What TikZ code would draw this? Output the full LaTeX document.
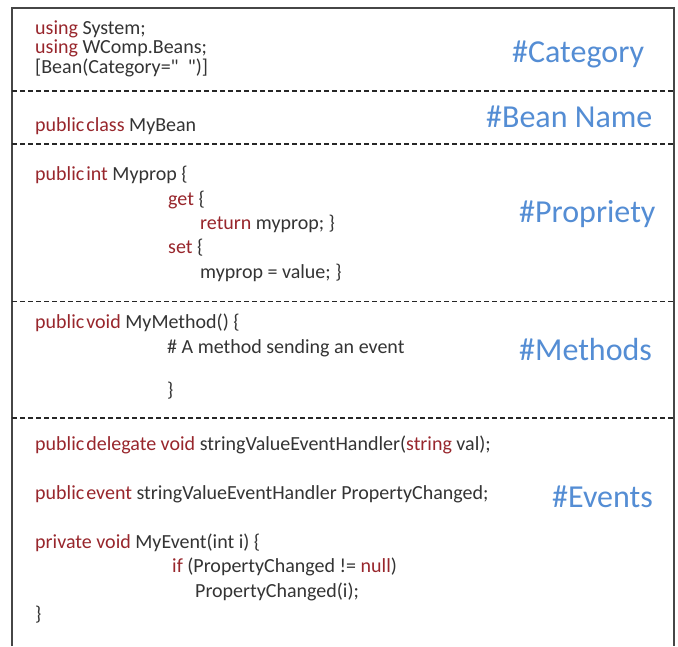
\documentclass[tikz,border=0pt]{standalone}
\usepackage{fontspec}
\setmainfont{Carlito}[Ligatures=TeXOff]
\definecolor{codegray}{RGB}{52,52,52}
\definecolor{kwred}{RGB}{152,38,44}
\definecolor{tagblue}{RGB}{84,141,212}
\definecolor{framegray}{RGB}{70,70,70}
\newcommand\kw[1]{\textcolor{kwred}{#1}}
\newcommand\ns{\hspace{0.1em}}
\begin{document}
\begin{tikzpicture}[x=1pt,y=-1pt,
  code/.style={anchor=base west, inner sep=0pt, text=codegray,
    font=\fontsize{20}{20}\selectfont},
  tag/.style={anchor=base west, inner sep=0pt, text=tagblue,
    font=\fontsize{32}{32}\selectfont},
  sepline/.style={draw=black!85, dash pattern=on 5pt off 3pt, line width=1.1pt},
  frame/.style={draw=framegray, line width=1.6pt}]

\useasboundingbox (0,0) rectangle (678,646);
\fill[white] (0,0) rectangle (678,646);

% outer frame, open at the bottom
\coordinate (bl) at (12,646);
\coordinate (tl) at (12,8);
\coordinate (tr) at (674,8);
\coordinate (br) at (674,646);
\draw[frame] (bl) -- (tl) -- (tr) -- (br);

% section separators
\foreach \y [count=\i] in {91,144,301.5,418}{
  \coordinate (s\i l) at (12,\y);
  \coordinate (s\i r) at (674,\y);
  \draw[sepline] (s\i l) -- (s\i r);
}

% header
\node[code] (u1) at (35,34)   {\kw{using} System;};
\node[code] (u2) at (35,53.5) {\kw{using} WComp.Beans;};
\node[code] (u3) at (35,73)   {[Bean(Category="\hspace{0.45em}")]};
\node[tag]  (t1) at (512,62)  {\#Category};

% class
\node[code] (c1) at (35,131)  {\kw{public\ns class} MyBean};
\node[tag]  (t2) at (486,127) {\#Bean Name};

% property
\node[code] (p1) at (35,180)  {\kw{public\ns int} Myprop \{};
\node[code] (p2) at (168,205) {\kw{get} \{};
\node[code] (p3) at (200,229) {\kw{return} myprop; \}};
\node[code] (p4) at (168,253) {\kw{set} \{};
\node[code] (p5) at (200,278) {myprop = value; \}};
\node[tag]  (t3) at (519,222) {\#Propriety};

% method
\node[code] (m1) at (35,328)  {\kw{public\ns void} MyMethod() \{};
\node[code] (m2) at (167,353.5) {\# A method sending an event};
\node[code] (m3) at (167,396) {\}};
\node[tag]  (t4) at (519,360) {\#Methods};

% events
\node[code] (e1) at (35,450)  {\kw{public\ns delegate void} stringValueEventHandler(\kw{string} val);};
\node[code] (e2) at (35,499)  {\kw{public\ns event} stringValueEventHandler PropertyChanged;};
\node[code] (e3) at (35,548)  {\kw{private void} MyEvent(int i) \{};
\node[code] (e4) at (172,572) {\kw{if} (PropertyChanged != \kw{null})};
\node[code] (e5) at (195,597) {PropertyChanged(i);};
\node[code] (e6) at (35,620)  {\}};
\node[tag]  (t5) at (552,507) {\#Events};
\end{tikzpicture}
\end{document}
